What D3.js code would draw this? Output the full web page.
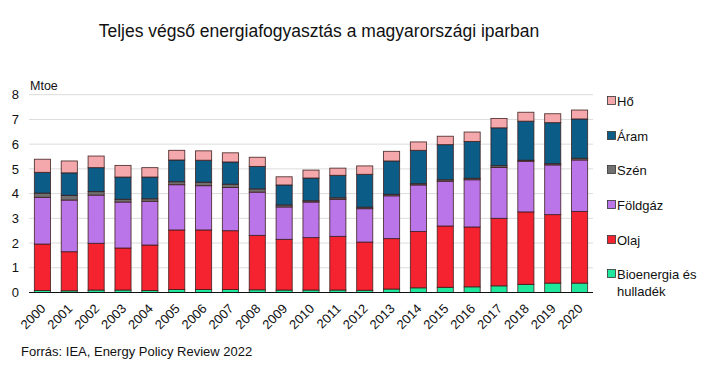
<!DOCTYPE html>
<html><head><meta charset="utf-8">
<script src="https://cdn.jsdelivr.net/npm/d3@7"></script>
<style>body{margin:0;background:#fff}svg{display:block;font-family:"Liberation Sans",Arial,sans-serif}</style>
</head><body><svg id="c" width="720" height="368"></svg>
<script>
const years = ["2000","2001","2002","2003","2004","2005","2006","2007","2008","2009","2010","2011","2012","2013","2014","2015","2016","2017","2018","2019","2020"];
const bioenergia = [0.08,0.07,0.10,0.10,0.08,0.12,0.12,0.12,0.11,0.10,0.10,0.10,0.09,0.14,0.19,0.21,0.23,0.27,0.33,0.38,0.38];
const olaj =       [1.88,1.58,1.89,1.70,1.84,2.41,2.41,2.38,2.20,2.05,2.12,2.17,1.95,2.04,2.28,2.48,2.42,2.73,2.93,2.77,2.90];
const foldgaz =    [1.89,2.09,1.95,1.86,1.77,1.83,1.79,1.75,1.75,1.31,1.44,1.50,1.35,1.73,1.88,1.81,1.91,2.06,2.05,2.01,2.08];
const szen =       [0.17,0.19,0.14,0.11,0.10,0.12,0.14,0.13,0.13,0.08,0.05,0.06,0.06,0.06,0.05,0.06,0.06,0.07,0.04,0.05,0.07];
const aram =       [0.84,0.91,0.97,0.90,0.88,0.88,0.89,0.90,0.91,0.81,0.92,0.91,1.33,1.35,1.35,1.42,1.49,1.53,1.58,1.66,1.59];
const ho =         [0.53,0.48,0.47,0.47,0.38,0.39,0.38,0.37,0.37,0.33,0.32,0.29,0.34,0.39,0.34,0.34,0.38,0.38,0.36,0.36,0.36];
const seriesNames = ["Bioenergia és hulladék","Olaj","Földgáz","Szén","Áram","Hő"];
const seriesColors = ["#1fe79b","#f4232f","#ba75e8","#707070","#0b5c86","#f5a8ab"];
const yTicks = [0,1,2,3,4,5,6,7,8];

const seriesVals = [bioenergia, olaj, foldgaz, szen, aram, ho];
const svg = d3.select("#c");
const m = {l:29, r:593, t:94.7, b:292.5};
const x = d3.scaleBand().domain(years).range([m.l, m.r]).paddingInner(0.4).paddingOuter(0.2);
const y = d3.scaleLinear().domain([0,8]).range([m.b, m.t]);

svg.append("text").attr("x",319).attr("y",37).attr("text-anchor","middle")
  .attr("font-size",17.5).attr("fill","#111").text("Teljes végső energiafogyasztás a magyarországi iparban");

// gridlines
svg.append("g").selectAll("line").data(yTicks.filter(d=>d>0)).join("line")
  .attr("x1",m.l).attr("x2",m.r).attr("y1",d=>y(d)).attr("y2",d=>y(d))
  .attr("stroke","#dcdcdc").attr("stroke-width",1);

// y axis labels
const ya = svg.append("g").attr("transform",`translate(${m.l},0)`)
  .call(d3.axisLeft(y).tickValues(yTicks).tickSize(0).tickPadding(10).tickFormat(d3.format("d")));
ya.select(".domain").remove();
ya.selectAll("text").attr("font-size",13).attr("fill","#111").attr("font-family","Liberation Sans, Arial, sans-serif");

svg.append("text").attr("x",30).attr("y",90).attr("font-size",12.5).attr("fill","#111").text("Mtoe");

// stack
const data = years.map((yr,i)=>{const o={year:yr}; seriesNames.forEach((s,j)=>o[s]=seriesVals[j][i]); return o;});
const stack = d3.stack().keys(seriesNames)(data);
svg.append("g").selectAll("g").data(stack).join("g")
  .attr("fill",(d,i)=>seriesColors[i])
  .selectAll("rect").data(d=>d).join("rect")
  .attr("x",d=>x(d.data.year)).attr("width",x.bandwidth())
  .attr("y",d=>y(d[1])).attr("height",d=>y(d[0])-y(d[1]))
  .attr("stroke","#3a1a1a").attr("stroke-width",0.9).attr("stroke-opacity",0.85);

// x axis
const xa = svg.append("g").attr("transform",`translate(0,${m.b})`)
  .call(d3.axisBottom(x).tickSize(0).tickPadding(0));
xa.select(".domain").attr("stroke","#111").attr("stroke-width",1.2).attr("d",`M${m.l},0H${m.r}`);
xa.selectAll("text").attr("font-size",13).attr("fill","#111")
  .attr("font-family","Liberation Sans, Arial, sans-serif")
  .attr("text-anchor","end").attr("x",0).attr("y",0).attr("dy",0)
  .attr("transform","translate(4,17) rotate(-45)");

// legend
const legY = [101,136,170,205,240,274];
const order = [5,4,3,2,1,0];
const lg = svg.append("g");
order.forEach((si,k)=>{
  lg.append("rect").attr("x",607.5).attr("y",legY[k]-4.5).attr("width",8).attr("height",8)
    .attr("fill",seriesColors[si]).attr("stroke","#333").attr("stroke-width",0.8);
  const t = lg.append("text").attr("x",617).attr("y",legY[k]+4.5).attr("font-size",13).attr("fill","#111");
  if (si===0){ t.append("tspan").text("Bioenergia és"); t.append("tspan").attr("x",617).attr("dy",17).text("hulladék"); }
  else t.text(seriesNames[si]);
});

svg.append("text").attr("x",21).attr("y",356).attr("font-size",13).attr("fill","#111").text("Forrás: IEA, Energy Policy Review 2022");
</script></body></html>
